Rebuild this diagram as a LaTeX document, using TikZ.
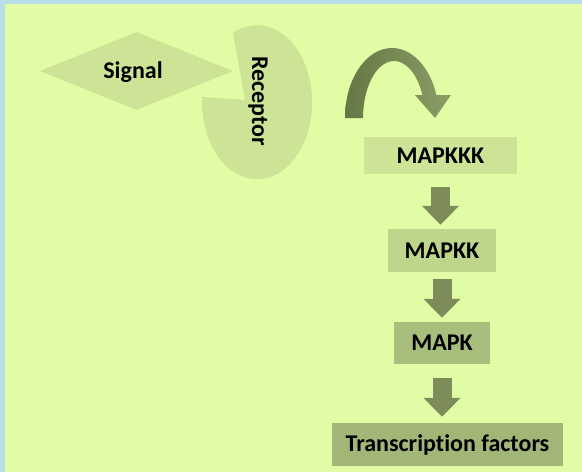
\documentclass[tikz,border=0pt]{standalone}
\usepackage{fontspec}
\setmainfont{Carlito}[Ligatures=NoCommon]
\usetikzlibrary{arrows.meta,shapes.geometric}
\definecolor{frameblue}{HTML}{B8DEEA}
\definecolor{pagegreen}{HTML}{E0FCA4}
\definecolor{leafpale}{HTML}{CDE496}
\definecolor{leafmid}{HTML}{BDD68C}
\definecolor{leafdark}{HTML}{A8BE7C}
\definecolor{leafdeep}{HTML}{A2B678}
\definecolor{arrowgreen}{HTML}{7E8C5A}
\definecolor{curvedark}{HTML}{657744}
\definecolor{curvelight}{HTML}{8C9D66}

\begin{document}
\begin{tikzpicture}[x=1pt,y=1pt]
\tikzstyle{label}=[inner sep=0pt,font=\fontsize{24}{28}\selectfont\bfseries]
\tikzstyle{box}=[label,draw=none,minimum height=42pt]
\tikzstyle{blockarrow}=[draw=arrowgreen,line width=19pt,-{Triangle[width=36pt,length=19pt]}]
% end of definitions
\useasboundingbox (0,0) rectangle (582,-472);
\fill[frameblue] (0,0) rectangle (582,-472); %frame
\fill[pagegreen] (5,-4) rectangle (582,-472);
\node (signal) [label,shape=diamond,fill=leafpale,minimum width=193pt,minimum height=78pt] at (136.5,-71) {};
\node at (133,-72) [label] {Signal};
\fill[leafpale] (245,-100) -- (233,-33) arc[start angle=116,end angle=-184,x radius=55,y radius=77] -- cycle; %receptor
\node (receptor) [label,rotate=-90] at (258,-101) {Receptor};
\shade[left color=curvedark,right color=curvelight] (345,-118) arc[start angle=180,end angle=19,x radius=47,y radius=70]
  -- (451,-95) -- (435,-118) -- (415,-95) -- (422.4,-95)
  arc[start angle=23.8,end angle=180,x radius=31,y radius=57] -- cycle; %turn
\node (mapkkk) [box,fill=leafpale,minimum width=153pt,minimum height=37pt] at (440.5,-155.5) {MAPKKK};
\node (mapkk) [box,fill=leafmid,minimum width=108pt,minimum height=43pt] at (442,-250.5) {MAPKK};
\node (mapk) [box,fill=leafdark,minimum width=96pt] at (442,-343) {MAPK};
\node (tf) [box,fill=leafdeep,minimum width=231pt,minimum height=43pt] at (447.5,-444.5) {Transcription factors};
\draw[blockarrow] ([yshift=-13pt]mapkkk.south) -- ([yshift=4pt]mapkkk.south |- mapkk.north);
\draw[blockarrow] ([yshift=-7pt]mapkk.south) -- ([yshift=4pt]mapkk.south |- mapk.north);
\draw[blockarrow] ([yshift=-14pt]mapk.south) -- ([yshift=6pt]mapk.south |- tf.north);
\end{tikzpicture}
\end{document}
